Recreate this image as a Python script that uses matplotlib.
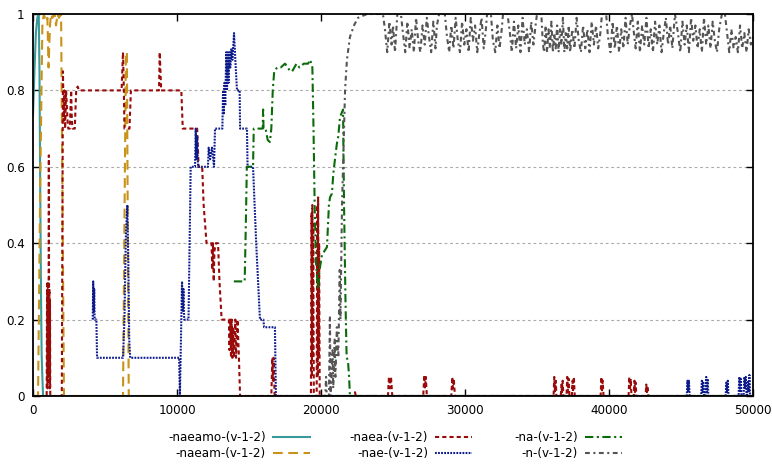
import matplotlib
matplotlib.use("Agg")
import matplotlib.pyplot as plt
from matplotlib import font_manager
from matplotlib.lines import Line2D

# gnuplot used a narrow sans; take the narrowest one that is installed
installed = {(f.name, f.stretch) for f in font_manager.fontManager.ttflist}
names = {n for n, _ in installed}
if "Liberation Sans Narrow" in names:
    plt.rcParams["font.family"] = ["Liberation Sans Narrow", "DejaVu Sans"]
    FONT_SIZE = 10.5
elif any(n == "DejaVu Sans" and s == "condensed" for n, s in installed):
    plt.rcParams["font.family"] = ["DejaVu Sans"]
    plt.rcParams["font.stretch"] = "condensed"
    FONT_SIZE = 9.5
else:
    plt.rcParams["font.family"] = ["Liberation Sans", "DejaVu Sans"]
    FONT_SIZE = 9.5
plt.rcParams["lines.scale_dashes"] = False

# ---- data ----
NAEAMO_X = [0, 100, 200, 300, 400, 450, 500, 560, 600, 650, 700, 50000]
NAEAMO_Y = [0.735, 0.85, 0.95, 0.99, 1.0, 0.85, 0.55, 0.25, 0.11, 0.05, 0.0, 0.0]

NAEAM_X = [0, 350, 500, 650, 750, 900, 1000, 1080, 1180, 1250, 1350, 1500, 1600,
           1700, 1800, 1950, 2050, 2150, 6250, 6350, 6450, 6520, 6580, 6650, 50000]
NAEAM_Y = [0, 0, 0.55, 0.97, 1.0, 0.98, 0.99, 0.86, 0.97, 1.0, 0.99, 1.0, 0.97,
           1.0, 0.99, 1.0, 0.5, 0.0, 0.0, 0.45, 0.9, 0.9, 0.45, 0.0, 0.0]

NAEA_X = [0, 950, 980, 1000, 1020, 1040, 1060, 1080, 1100, 1120, 1140, 1160, 1180, 1200,
          2000, 2080, 2130, 2180, 2230, 2300, 2400, 2450, 2550, 2650, 2700, 2750, 2900,
          3000, 3100, 3200, 6150, 6250, 6300, 6350, 6700, 6800, 8750, 8800, 8850, 8900,
          10300, 10400, 11400, 11500, 11750, 11850, 12050, 12400, 12450, 12500, 12550,
          12600, 12700, 12850, 12950, 13100, 13600, 13650, 13700, 13750, 13800, 13850,
          13900, 13950, 14050, 14100, 14200, 14300, 14380,
          16550, 16620, 16660, 16700, 16780,
          19300, 19340, 19370, 19400, 19430, 19460, 19500,
          19700, 19740, 19770, 19800, 19840, 19870, 19910,
          22300, 22360, 22420,
          24650, 24720, 24790, 24860, 24950,
          27100, 27170, 27220, 27280, 27350,
          29050, 29120, 29160, 29220, 29300,
          36150, 36200, 36250, 36300, 36350,
          36650, 36700, 36730, 36780, 36830,
          37050, 37100, 37150, 37200, 37250,
          37420, 37470, 37500, 37560, 37620,
          39420, 39470, 39510, 39560, 39620,
          41360, 41410, 41460, 41510, 41560,
          41720, 41770, 41800, 41850, 41900,
          42540, 42590, 42630, 42680, 42730, 50000]
NAEA_Y = [0, 0, 0.3, 0.02, 0.28, 0.05, 0.3, 0.1, 0.63, 0.15, 0.28, 0.02, 0.25, 0.0,
          0.0, 0.85, 0.72, 0.8, 0.7, 0.8, 0.72, 0.7, 0.7, 0.8, 0.72, 0.7, 0.7,
          0.8, 0.81, 0.8, 0.8, 0.9, 0.82, 0.7, 0.7, 0.8, 0.8, 0.9, 0.85, 0.8,
          0.8, 0.7, 0.7, 0.6, 0.6, 0.5, 0.4, 0.4, 0.33, 0.4, 0.3,
          0.38, 0.4, 0.4, 0.3, 0.2, 0.2, 0.12, 0.2, 0.1, 0.2, 0.1,
          0.18, 0.1, 0.2, 0.1, 0.2, 0.1, 0.0,
          0.0, 0.1, 0.04, 0.1, 0.0,
          0.0, 0.48, 0.05, 0.5, 0.1, 0.45, 0.0,
          0.0, 0.5, 0.05, 0.52, 0.1, 0.4, 0.0,
          0.0, 0.01, 0.0,
          0.0, 0.05, 0.02, 0.05, 0.0,
          0.0, 0.055, 0.02, 0.05, 0.0,
          0.0, 0.05, 0.02, 0.045, 0.0,
          0.0, 0.05, 0.01, 0.04, 0.0,
          0.0, 0.03, 0.01, 0.04, 0.0,
          0.0, 0.05, 0.01, 0.045, 0.0,
          0.0, 0.04, 0.01, 0.05, 0.0,
          0.0, 0.05, 0.01, 0.04, 0.0,
          0.0, 0.05, 0.02, 0.045, 0.0,
          0.0, 0.04, 0.01, 0.035, 0.0,
          0.0, 0.03, 0.01, 0.025, 0.0, 0.0]

NAE_X = [4150, 4180, 4220, 4250, 4280, 4400, 4450, 6250, 6350, 6450, 6550, 6620, 6680,
         6750, 10150, 10200, 10250, 10300, 10350, 10400, 10450, 10500, 10800, 10950,
         11250, 11300, 11350, 11400, 11460, 12150, 12200, 12300, 12430, 12570, 12640,
         13150, 13200, 13250, 13300, 13350, 13420, 13470, 13530, 13580, 13650, 13700,
         13780, 13850, 13960, 14050, 14165, 14350, 14380, 14860, 14900, 15280, 15500,
         15760, 16000, 16050, 16800, 16870,
         45400, 45450, 45500, 45550, 45600,
         46400, 46450, 46500, 46550, 46600,
         46700, 46750, 46800, 46850, 46900,
         48100, 48150, 48200, 48250, 48300,
         49000, 49050, 49100, 49150, 49200,
         49350, 49400, 49450, 49500, 49550,
         49600, 49650, 49700, 49750, 49800, 50000]
NAE_Y = [0.2, 0.3, 0.22, 0.28, 0.2, 0.2, 0.1, 0.1, 0.2, 0.42, 0.5, 0.35, 0.15,
         0.1, 0.1, 0.0, 0.1, 0.2, 0.3, 0.22, 0.28, 0.2, 0.2, 0.6,
         0.6, 0.7, 0.62, 0.68, 0.6, 0.6, 0.65, 0.62, 0.65, 0.6, 0.7,
         0.7, 0.8, 0.74, 0.82, 0.76, 0.9, 0.8, 0.9, 0.82, 0.9, 0.86,
         0.91, 0.88, 0.95, 0.88, 0.8, 0.8, 0.7, 0.7, 0.6, 0.6, 0.4,
         0.2, 0.2, 0.18, 0.18, 0.0,
         0.0, 0.04, 0.01, 0.04, 0.0,
         0.0, 0.04, 0.01, 0.035, 0.0,
         0.0, 0.05, 0.01, 0.045, 0.0,
         0.0, 0.035, 0.01, 0.04, 0.0,
         0.0, 0.05, 0.01, 0.045, 0.0,
         0.0, 0.05, 0.02, 0.05, 0.0,
         0.0, 0.04, 0.01, 0.055, 0.0, 0.0]

NA_X = [13950, 14700, 14780, 14850, 15280, 15330, 15950, 15980, 16010, 16150, 16300,
        16450, 16550, 16650, 16750, 16950, 17200, 17500, 17700, 17850, 18000, 18150,
        18300, 18500, 18800, 19100, 19250, 19400, 19480, 19560, 19650, 19790, 19900,
        20070, 20250, 20415, 20550, 20625, 20760, 20850, 20970, 21100, 21200, 21320,
        21530, 21600, 21700, 21780, 21870, 21950, 22010, 50000]
NA_Y = [0.3, 0.3, 0.45, 0.6, 0.6, 0.7, 0.7, 0.75, 0.7, 0.7, 0.67,
        0.665, 0.7, 0.8, 0.85, 0.86, 0.86, 0.87, 0.86, 0.85, 0.85, 0.86,
        0.87, 0.86, 0.87, 0.87, 0.88, 0.86, 0.7, 0.5, 0.35, 0.28, 0.33,
        0.37, 0.38, 0.39, 0.5, 0.52, 0.53, 0.58, 0.62, 0.66, 0.68, 0.73,
        0.75, 0.5, 0.25, 0.1, 0.094, 0.05, 0.0, 0.0]

N_X = [20050, 20300, 20350, 20400, 20550, 20620, 20660, 20800, 20850, 20950, 21000,
       21100, 21200, 21300, 21350, 21460, 21530, 21670,
       21800, 22010, 22290, 22570, 23200, 24300,
       24440, 24600, 24750, 24900, 25000, 25140, 25300,
       25550, 25690, 25850, 26000, 26150, 26300, 26450, 26600, 26750, 26900, 27050,
       27200, 27350, 27500, 27650, 27800, 27950, 28050, 28200,
       28600, 28750, 28900, 29050, 29200, 29350, 29500, 29650, 29800, 29950, 30100,
       30250, 30400, 30550, 30700, 30850, 31000, 31150, 31300, 31450, 31530,
       31800, 31940, 32100, 32250, 32400, 32550, 32640,
       32950, 33120, 33250, 33400, 33550, 33700, 33850, 34000, 34150, 34300, 34450,
       34600, 34750, 34900, 35000,
       35300, 35410, 35500, 35600, 35700, 35800, 35900, 36000, 36100, 36200, 36300,
       36400, 36500, 36600, 36700, 36800, 36900, 37000, 37100, 37200, 37300, 37450,
       37600, 37750, 37900, 38050, 38200, 38350, 38500, 38650, 38800, 38950, 39100,
       39250, 39400, 39510,
       39800, 39930, 40100, 40250, 40400, 40550, 40700, 40850, 41000, 41150, 41300,
       41450, 41600,
       41700, 41850, 42000, 42150, 42300, 42450, 42600, 42750, 42900, 43050, 43200,
       43350, 43500, 43650, 43800, 43950, 44100, 44250, 44400, 44580,
       44790, 44950, 45100, 45250, 45400, 45550, 45700, 45850, 46000, 46150, 46300,
       46450, 46600, 46750, 46900, 47050, 47200, 47350, 47500, 47650, 47840,
       48050, 48200, 48350, 48500, 48650, 48800, 48950, 49100, 49250, 49400, 49550,
       49700, 49850, 50000]
N_Y = [0.0, 0.0, 0.05, 0.0, 0.0, 0.21, 0.0, 0.12, 0.02, 0.15, 0.05,
       0.18, 0.1, 0.33, 0.2, 0.5, 0.6, 0.8,
       0.88, 0.94, 0.97, 0.99, 1.0, 1.0,
       0.96, 0.9, 0.98, 0.92, 0.97, 0.9, 1.0,
       1.0, 0.95, 0.9, 0.98, 0.91, 0.96, 0.9, 0.99, 0.93, 0.9, 0.97,
       0.92, 0.99, 0.94, 0.9, 0.98, 0.91, 0.97, 1.0,
       1.0, 0.94, 0.9, 0.97, 0.91, 0.99, 0.93, 0.9, 0.98, 0.92, 0.96,
       0.9, 0.99, 0.93, 0.97, 0.9, 0.95, 0.99, 0.91, 0.96, 1.0,
       1.0, 0.93, 0.9, 0.97, 0.91, 0.96, 1.0,
       1.0, 0.95, 0.9, 0.98, 0.91, 0.97, 0.9, 0.99, 0.92, 0.96, 0.9,
       0.98, 0.92, 0.97, 1.0,
       1.0, 0.92, 0.9, 0.97, 0.9, 0.96, 0.91, 0.98, 0.9, 0.95, 0.91,
       0.97, 0.9, 0.96, 0.92, 0.99, 0.9, 0.95, 0.91, 0.97, 0.9, 0.96,
       0.91, 0.99, 0.93, 0.9, 0.97, 0.91, 0.96, 0.9, 0.98, 0.92, 0.97,
       0.91, 0.95, 1.0,
       1.0, 0.94, 0.9, 0.98, 0.91, 0.97, 0.9, 0.96, 0.91, 0.99, 0.92,
       0.97, 1.0,
       0.96, 0.91, 0.98, 0.9, 0.97, 0.92, 0.99, 0.91, 0.96, 0.9, 0.98,
       0.92, 0.97, 0.9, 0.95, 0.99, 0.92, 0.97, 0.91, 1.0,
       0.95, 0.9, 0.98, 0.92, 0.97, 0.9, 0.99, 0.93, 0.97, 0.91, 0.96,
       0.9, 0.99, 0.92, 0.97, 0.91, 0.98, 0.93, 0.9, 0.96, 1.0,
       1.0, 0.95, 0.9, 0.96, 0.91, 0.94, 0.9, 0.97, 0.91, 0.95, 0.9,
       0.96, 0.92, 0.94]

LABELS = ["-naeamo-(v-1-2)", "-naeam-(v-1-2)", "-naea-(v-1-2)",
          "-nae-(v-1-2)", "-na-(v-1-2)", "-n-(v-1-2)"]
X_TICKS = [0, 10000, 20000, 30000, 40000, 50000]
Y_TICKS = [0, 0.2, 0.4, 0.6, 0.8, 1.0]
Y_TICK_LABELS = ["0", "0.2", "0.4", "0.6", "0.8", "1"]

STYLES = [
    dict(color="#399a9a", linestyle="-"),
    dict(color="#c99218", linestyle=(0, (7, 4))),
    dict(color="#990a0a", linestyle=(0, (3, 2.2))),
    dict(color="#0c1a8c", linestyle=(0, (1.3, 0.9))),
    dict(color="#0b6b0b", linestyle=(0, (6, 2.5, 1.5, 2.5))),
    dict(color="#555555", linestyle=(0, (3.5, 2.5, 1.5, 2.5))),
]

series = [(NAEAMO_X, NAEAMO_Y), (NAEAM_X, NAEAM_Y), (NAEA_X, NAEA_Y),
          (NAE_X, NAE_Y), (NA_X, NA_Y), (N_X, N_Y)]

fig = plt.figure(figsize=(7.72, 4.69), dpi=100)
ax = fig.add_axes([33 / 772, 1 - 396 / 469, 720 / 772, 382 / 469])

for (xs, ys), style in zip(series, STYLES):
    ax.plot(xs, ys, lw=1.5, **style)

ax.set_xlim(0, 50000)
ax.set_ylim(0, 1)
ax.set_xticks(X_TICKS)
ax.set_xticklabels([str(t) for t in X_TICKS])
ax.set_yticks(Y_TICKS)
ax.set_yticklabels(Y_TICK_LABELS)
for y in Y_TICKS[1:-1]:
    ax.axhline(y, color="#aaaaaa", lw=0.8, linestyle=(0, (2, 2)), zorder=0)

ax.tick_params(direction="in", length=5, width=1, top=True, right=True,
               labelsize=FONT_SIZE, pad=6, colors="black")
for spine in ax.spines.values():
    spine.set_linewidth(1.3)

# legend drawn gnuplot-style: right-aligned text with sample line after it
text_right = [266 / 772, 428 / 772, 578 / 772]
row_y = [1 - 437 / 469, 1 - 453 / 469]
for i, (label, style) in enumerate(zip(LABELS, STYLES)):
    col, row = divmod(i, 2)
    x_txt = text_right[col]
    y = row_y[row]
    fig.text(x_txt, y, label, ha="right", va="center", fontsize=FONT_SIZE)
    fig.add_artist(Line2D([x_txt + 7 / 772, x_txt + 44 / 772], [y, y],
                          transform=fig.transFigure, lw=1.5, **style))

fig.savefig("out.png", dpi=100)
